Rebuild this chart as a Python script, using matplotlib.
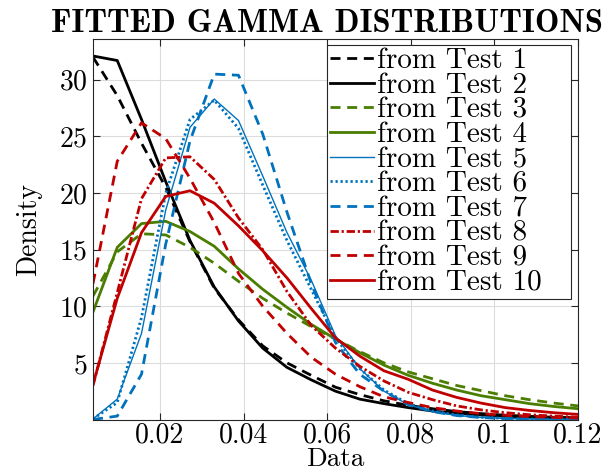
import numpy as np
import matplotlib
matplotlib.use("Agg")
import matplotlib.pyplot as plt

plt.rcParams['font.family'] = 'serif'
plt.rcParams['font.serif'] = ['cmr10', 'DejaVu Serif']
plt.rcParams['mathtext.fontset'] = 'cm'
plt.rcParams['axes.formatter.use_mathtext'] = True

# sample points of the fitted pdfs
x = [0.0040, 0.0098, 0.0156, 0.0214, 0.0272, 0.0330, 0.0388, 0.0446, 0.0504, 0.0562, 0.0620,
     0.0678, 0.0736, 0.0794, 0.0852, 0.0910, 0.0968, 0.1026, 0.1084, 0.1142, 0.1200]

test1 = [32.0, 28.6, 24.4, 20.5, 15.7, 11.6, 8.8, 6.5, 5.0, 3.9, 2.85,
         2.2, 1.65, 1.25, 0.95, 0.7, 0.52, 0.38, 0.28, 0.2, 0.15]
test2 = [32.1, 31.7, 26.5, 21.0, 15.8, 11.7, 8.7, 6.3, 4.6, 3.5, 2.5,
         1.8, 1.4, 1.05, 0.75, 0.55, 0.4, 0.28, 0.2, 0.14, 0.1]
test3 = [10.9, 14.8, 16.4, 16.3, 15.2, 13.8, 12.2, 10.7, 9.4, 8.2, 7.1,
         6.0, 5.0, 4.2, 3.6, 3.0, 2.55, 2.1, 1.75, 1.45, 1.2]
test4 = [9.5, 15.2, 17.3, 17.5, 16.6, 15.3, 13.3, 11.5, 9.9, 8.4, 7.1,
         5.9, 4.8, 3.9, 3.2, 2.6, 2.1, 1.75, 1.4, 1.15, 0.95]
test5 = [0.05, 1.8, 7.6, 18.5, 25.8, 28.3, 26.4, 21.5, 16.5, 12.3, 7.4,
         4.5, 2.5, 1.3, 0.7, 0.35, 0.18, 0.09, 0.04, 0.02, 0.01]
test6 = [0.05, 1.5, 9.0, 20.0, 26.5, 28.2, 25.7, 20.7, 15.8, 11.5, 7.2,
         4.5, 2.6, 1.4, 0.75, 0.4, 0.2, 0.1, 0.05, 0.03, 0.01]
test7 = [0.0, 0.3, 4.0, 15.5, 24.6, 30.5, 30.4, 25.2, 18.3, 12.0, 6.8,
         4.0, 2.5, 1.3, 0.7, 0.35, 0.17, 0.08, 0.04, 0.02, 0.01]
test8 = [3.0, 11.2, 19.5, 23.1, 23.2, 21.2, 17.8, 15.0, 11.3, 8.3, 6.3,
         4.7, 3.4, 2.4, 1.75, 1.2, 0.85, 0.6, 0.42, 0.3, 0.2]
test9 = [12.0, 22.8, 26.2, 24.8, 21.3, 17.4, 12.9, 10.0, 7.6, 5.5, 4.0,
         2.9, 2.0, 1.5, 1.05, 0.75, 0.52, 0.37, 0.26, 0.18, 0.13]
test10 = [3.1, 10.7, 16.5, 19.7, 20.2, 19.1, 17.1, 14.9, 12.5, 9.8, 7.2,
          5.6, 4.3, 3.55, 2.6, 1.95, 1.45, 1.05, 0.8, 0.6, 0.45]

series = [test1, test2, test3, test4, test5, test6, test7, test8, test9, test10]
labels = ["from Test %d" % (i + 1) for i in range(10)]

xticks = [0.02, 0.04, 0.06, 0.08, 0.1, 0.12]
xticklabels = ["0.02", "0.04", "0.06", "0.08", "0.1", "0.12"]
yticks = [5, 10, 15, 20, 25, 30]

black = '#000000'
green = '#4a7d00'
blue = '#0072bd'
red = '#c00000'

styles = [
    dict(color=black, lw=2.0, dashes=(3.6, 2.4)),
    dict(color=black, lw=2.0, ls='-'),
    dict(color=green, lw=2.0, dashes=(3.6, 2.4)),
    dict(color=green, lw=2.0, ls='-'),
    dict(color=blue, lw=1.0, ls='-'),
    dict(color=blue, lw=2.0, dashes=(0.8, 1.0)),
    dict(color=blue, lw=2.0, dashes=(3.6, 2.4)),
    dict(color=red, lw=2.0, dashes=(3.0, 1.0, 0.8, 1.0)),
    dict(color=red, lw=2.0, dashes=(3.6, 2.4)),
    dict(color=red, lw=2.0, ls='-'),
]

fig = plt.figure(figsize=(6.15, 4.74), dpi=100)
ax = fig.add_axes([93 / 615, 1 - 419.5 / 474, 485 / 615, 380.5 / 474])

for y, lab, st in zip(series, labels, styles):
    ax.plot(x, y, label=lab, **st)

ax.set_xlim(0.004, 0.12)
ax.set_ylim(0, 33.6)
ax.set_xticks(xticks)
ax.set_xticklabels(xticklabels)
ax.set_yticks(yticks)
ax.grid(True, color='#dcdcdc', lw=0.8)
ax.set_axisbelow(True)
ax.tick_params(direction='in', top=True, right=True, length=5, width=0.8,
               labelsize=20, colors='#262626', labelcolor='black', pad=4)
ax.tick_params(axis='x', pad=2)
for s in ax.spines.values():
    s.set_color('#262626')
    s.set_linewidth(0.8)

ax.set_xlabel("Data", fontsize=19.5, labelpad=-1)
ax.set_ylabel("Density", fontsize=20, labelpad=12)
ax.set_title("FITTED GAMMA DISTRIBUTIONS", fontfamily='cmb10', fontsize=23.5,
             pad=5, x=0.482)

leg = ax.legend(loc='upper left',
                bbox_to_anchor=(327 / 615, 1 - 294 / 474, 244 / 615, 249 / 474),
                bbox_transform=fig.transFigure, mode='expand',
                fontsize=21, labelspacing=-0.06,
                handlelength=1.5, handletextpad=0.1, borderpad=0.1, borderaxespad=0,
                fancybox=False, framealpha=1, edgecolor='#262626')
leg.get_frame().set_linewidth(0.8)

fig.savefig("out.png", dpi=100)
